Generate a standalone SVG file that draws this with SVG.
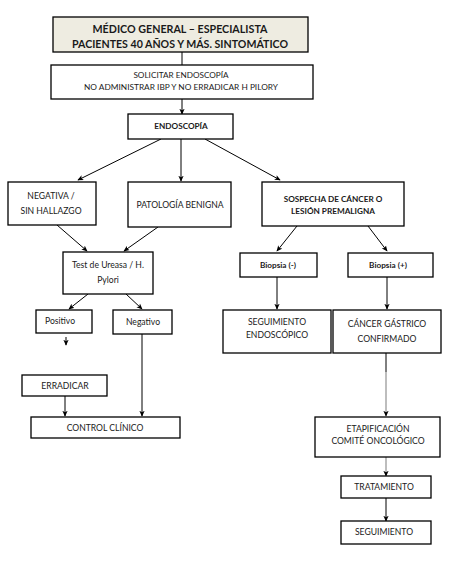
<svg xmlns="http://www.w3.org/2000/svg" width="453" height="561" viewBox="0 0 453 561">
<style>
.b{fill:#fff;stroke:#000;stroke-width:1.3}
.t{font-family:Lato,"Liberation Sans",sans-serif;font-size:8.6px;fill:#1a1a1a;text-anchor:middle}
.s{font-size:8.2px}
.h{font-size:11.5px;font-weight:bold}
.bd{font-weight:bold}
.c{stroke:#000;stroke-width:1;fill:none}
.g{stroke:#9a9a9a;stroke-width:1.3;fill:none}
</style>
<defs>
<marker id="a" viewBox="0 0 8 8" refX="7" refY="4" markerWidth="6" markerHeight="6" orient="auto" markerUnits="userSpaceOnUse">
<path d="M0,0.5 L8,4 L0,7.5 L2,4 Z" fill="#000"/>
</marker>
</defs>
<rect width="453" height="561" fill="#fff"/>
<g id="connectors">
<line class="c" x1="182" y1="52" x2="182" y2="65"/>
<line class="c" x1="182" y1="99" x2="182" y2="114" marker-end="url(#a)"/>
<line class="c" x1="161" y1="139" x2="78" y2="180" marker-end="url(#a)"/>
<line class="c" x1="181" y1="139" x2="181" y2="181" marker-end="url(#a)"/>
<line class="c" x1="205" y1="139" x2="280" y2="180" marker-end="url(#a)"/>
<line class="c" x1="57" y1="225" x2="87" y2="251" marker-end="url(#a)"/>
<line class="c" x1="158" y1="227" x2="124" y2="251" marker-end="url(#a)"/>
<line class="c" x1="88" y1="294" x2="69" y2="309" marker-end="url(#a)"/>
<line class="c" x1="126" y1="294" x2="142" y2="309" marker-end="url(#a)"/>
<line class="c" x1="66" y1="337" x2="66" y2="345" marker-end="url(#a)"/>
<line class="c" x1="65" y1="396" x2="65" y2="416" marker-end="url(#a)"/>
<line class="c" x1="142" y1="334" x2="142" y2="416" marker-end="url(#a)"/>
<line class="c" x1="297" y1="226" x2="277" y2="251" marker-end="url(#a)"/>
<line class="c" x1="368" y1="226" x2="387" y2="251" marker-end="url(#a)"/>
<line class="c" x1="277" y1="277" x2="277" y2="309" marker-end="url(#a)"/>
<line class="c" x1="387" y1="277" x2="387" y2="309" marker-end="url(#a)"/>
<line class="c" x1="386" y1="353" x2="386" y2="372"/>
<line class="g" x1="386" y1="372" x2="386" y2="416" marker-end="url(#a)"/>
<line class="g" x1="386" y1="457" x2="386" y2="476" marker-end="url(#a)"/>
<line class="c" x1="386" y1="498" x2="386" y2="521" marker-end="url(#a)"/>
</g>
<g id="n1"><rect x="53" y="17" width="255" height="35" fill="#eeece1" stroke="#000" stroke-width="1.3"/>
<text class="t h" x="180" y="33" textLength="175" lengthAdjust="spacingAndGlyphs">MÉDICO GENERAL – ESPECIALISTA</text>
<text class="t h" x="180" y="48" textLength="216" lengthAdjust="spacingAndGlyphs">PACIENTES 40 AÑOS Y MÁS. SINTOMÁTICO</text></g>
<g id="n2"><rect class="b" x="51" y="65" width="262" height="34"/>
<text class="t s" x="181" y="78">SOLICITAR ENDOSCOPÍA</text>
<text class="t s" x="181" y="90" textLength="194" lengthAdjust="spacingAndGlyphs">NO ADMINISTRAR IBP Y NO ERRADICAR H PILORY</text></g>
<g id="n3"><rect class="b" x="128" y="114" width="105" height="25"/>
<text class="t bd s" x="181" y="129">ENDOSCOPÍA</text></g>
<g id="n4"><rect class="b" x="8" y="182" width="88" height="43"/>
<text class="t" x="51" y="199">NEGATIVA /</text>
<text class="t" x="51" y="214">SIN HALLAZGO</text></g>
<g id="n5"><rect class="b" x="128" y="182" width="103" height="45"/>
<text class="t" x="180" y="208">PATOLOGÍA BENIGNA</text></g>
<g id="n6"><rect class="b" x="262" y="182" width="142" height="44"/>
<text class="t bd s" x="333" y="202">SOSPECHA DE CÁNCER O</text>
<text class="t bd s" x="333" y="214">LESIÓN PREMALIGNA</text></g>
<g id="n7"><rect class="b" x="63" y="252" width="90" height="42"/>
<text class="t" x="108" y="268">Test de Ureasa / H.</text>
<text class="t" x="108" y="283">Pylori</text></g>
<g id="n8"><rect class="b" x="36" y="310" width="56" height="23"/>
<text class="t" x="60" y="324">Positivo</text></g>
<g id="n9"><rect class="b" x="113" y="310" width="59" height="24"/>
<text class="t" x="143" y="325">Negativo</text></g>
<g id="n10"><rect class="b" x="22" y="375" width="85" height="21"/>
<text class="t" x="65" y="389">ERRADICAR</text></g>
<g id="n11"><rect class="b" x="31" y="417" width="149" height="21"/>
<text class="t" x="105" y="431">CONTROL CLÍNICO</text></g>
<g id="n12"><rect class="b" x="240" y="253" width="77" height="24"/>
<text class="t bd s" x="278" y="268">Biopsia (-)</text></g>
<g id="n13"><rect class="b" x="348" y="253" width="85" height="24"/>
<text class="t bd s" x="388" y="268">Biopsia  (+)</text></g>
<g id="n14"><rect class="b" x="223" y="310" width="108" height="43"/>
<text class="t" x="277" y="325">SEGUIMIENTO</text>
<text class="t" x="277" y="338">ENDOSCÓPICO</text></g>
<g id="n15"><rect class="b" x="333" y="310" width="108" height="43"/>
<text class="t" x="387" y="327">CÁNCER GÁSTRICO</text>
<text class="t" x="387" y="342">CONFIRMADO</text></g>
<g id="n16"><rect class="b" x="315" y="417" width="125" height="40"/>
<text class="t" x="378" y="432">ETAPIFICACIÓN</text>
<text class="t" x="378" y="444">COMITÉ ONCOLÓGICO</text></g>
<g id="n17"><rect class="b" x="341" y="476" width="90" height="22"/>
<text class="t" x="384" y="490">TRATAMIENTO</text></g>
<g id="n18"><rect class="b" x="341" y="521" width="90" height="23"/>
<text class="t" x="384" y="535">SEGUIMIENTO</text></g>
</svg>
